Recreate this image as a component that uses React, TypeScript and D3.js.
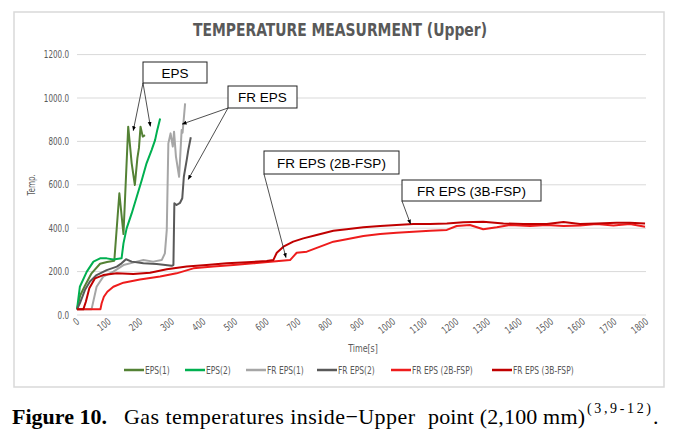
import React from "react";
import * as d3 from "d3";

const W = 683;
const H = 438;

const xTicks = d3.range(0, 1801, 100);
const yTicks = [0, 200, 400, 600, 800, 1000, 1200];

const seriesNames = ["EPS(1)", "EPS(2)", "FR EPS(1)", "FR EPS(2)", "FR EPS (2B-FSP)", "FR EPS (3B-FSP)"];
const seriesLegend = ["EPS(1)", "EPS(2)", "FR EPS(1)", "FR EPS(2)", "FR EPS (2B-FSP)", "FR EPS (3B-FSP)"];
const seriesColors = ["#548235", "#00b050", "#a6a6a6", "#595959", "#ee1c1c", "#c00000"];

const eps1: [number, number][] = [
  [0, 26], [10, 90], [25, 135], [46, 192], [73, 236], [95, 244], [118, 250],
  [134, 561], [147, 373], [162, 868], [173, 699], [183, 599], [191, 723],
  [196, 770], [201, 868], [208, 822], [215, 829],
];
const eps2: [number, number][] = [
  [0, 26], [9, 130], [31, 200], [52, 246], [73, 261], [94, 261], [115, 256],
  [141, 261], [147, 330], [157, 399], [173, 468], [189, 545], [205, 622],
  [220, 699], [236, 760], [247, 806], [254, 853], [263, 906],
];
const frEps1: [number, number][] = [
  [0, 26], [46, 26], [62, 130], [83, 177], [115, 200], [147, 230], [189, 246],
  [210, 253], [241, 246], [268, 253], [278, 284], [284, 392], [289, 791],
  [296, 837], [303, 776], [307, 845], [313, 730], [323, 637], [331, 852],
  [334, 840], [342, 975],
];
const frEps2: [number, number][] = [
  [0, 26], [9, 54], [25, 115], [41, 154], [62, 184], [94, 207], [126, 223],
  [141, 238], [155, 257], [173, 246], [210, 238], [252, 235], [300, 227],
  [305, 230], [308, 515], [315, 507], [326, 517], [333, 538], [338, 637],
  [347, 714], [352, 760], [360, 819],
];
const fr2b: [number, number][] = [
  [0, 26], [74, 26], [78, 54], [85, 84], [96, 107], [115, 130], [147, 149],
  [199, 164], [263, 177], [315, 192], [368, 215], [431, 223], [495, 230],
  [558, 238], [621, 246], [674, 253], [684, 269], [695, 287], [727, 292],
  [769, 315], [811, 338], [853, 349], [906, 364], [959, 373], [1011, 379],
  [1064, 384], [1117, 388], [1170, 392], [1201, 410], [1243, 415], [1285, 395],
  [1328, 404], [1370, 415], [1433, 410], [1486, 415], [1539, 410], [1591, 413],
  [1644, 419], [1697, 413], [1749, 419], [1797, 407],
];
const fr3b: [number, number][] = [
  [0, 26], [20, 26], [28, 61], [39, 123], [57, 169], [83, 184], [126, 192],
  [178, 189], [231, 195], [284, 211], [347, 223], [410, 230], [474, 238],
  [537, 243], [600, 249], [621, 253], [632, 287], [653, 315], [684, 338],
  [716, 353], [758, 369], [811, 388], [853, 395], [906, 404], [959, 410],
  [1011, 415], [1064, 419], [1117, 419], [1170, 422], [1222, 427], [1285, 430],
  [1349, 422], [1412, 419], [1486, 419], [1539, 429], [1591, 419], [1644, 422],
  [1707, 425], [1749, 425], [1797, 422],
];
const seriesData = [eps1, eps2, frEps1, frEps2, fr2b, fr3b];

const axisFont = "'Liberation Sans Narrow', 'DejaVu Sans Condensed', 'Roboto', sans-serif";
const boxFont = "'Liberation Sans', 'Open Sans', sans-serif";
const serif = "'Liberation Serif', 'DejaVu Serif', serif";
const SQ = 0.8; // horizontal squeeze for the condensed axis font

export default function App() {
  const x = d3.scaleLinear().domain([0, 1800]).range([77, 646]);
  const y = d3.scaleLinear().domain([0, 1200]).range([315, 54.6]);
  const line = d3
    .line<[number, number]>()
    .x((d) => x(d[0]))
    .y((d) => y(d[1]));

  const legendX = [124, 185, 246, 317, 391, 492];

  const boxes = [
    { label: "EPS", x0: 143, y0: 62, x1: 207, y1: 83 },
    { label: "FR EPS", x0: 228, y0: 86, x1: 297, y1: 108 },
    { label: "FR EPS (2B-FSP)", x0: 264, y0: 151, x1: 399, y1: 174 },
    { label: "FR EPS (3B-FSP)", x0: 402, y0: 180, x1: 541, y1: 201 },
  ];
  const arrows = [
    { fx: 143, fy: 83, t: 178, v: 850 },
    { fx: 143, fy: 83, t: 232, v: 870 },
    { fx: 228, fy: 108, t: 333, v: 880 },
    { fx: 228, fy: 108, t: 352, v: 625 },
    { fx: 264, fy: 174, t: 661, v: 265 },
    { fx: 402, fy: 201, t: 1055, v: 420 },
  ];

  return (
    <svg
      width={W}
      height={H}
      style={{ position: "absolute", left: 0, top: 0, display: "block", background: "#fff" }}
    >
      <defs>
        <marker id="arr" viewBox="0 0 10 10" refX="9" refY="5" markerWidth="6" markerHeight="6" orient="auto">
          <path d="M0,1 L10,5 L0,9 z" fill="#000" />
        </marker>
      </defs>
      <rect x={14} y={12} width={650} height={375} fill="#fff" stroke="#d9d9d9" strokeWidth={1.5} />
      <text
        x={340}
        y={36}
        textAnchor="middle"
        fontFamily={axisFont}
        fontSize={18}
        fontWeight="bold"
        fill="#595959"
        textLength={294}
        lengthAdjust="spacingAndGlyphs"
      >
        TEMPERATURE MEASURMENT (Upper)
      </text>

      {yTicks.map((t) => (
        <g key={"y" + t}>
          <line x1={x(0)} x2={x(1800)} y1={y(t)} y2={y(t)} stroke="#d9d9d9" strokeWidth={1} />
          <text
            transform={`translate(69,${y(t) + 3.5}) scale(${SQ},1)`}
            textAnchor="end"
            fontFamily={axisFont}
            fontSize={10}
            fill="#595959"
          >
            {t.toFixed(1)}
          </text>
        </g>
      ))}
      <text
        transform={`translate(35,${y(600)}) rotate(-90) scale(${SQ},1)`}
        textAnchor="middle"
        fontFamily={axisFont}
        fontSize={10}
        fill="#595959"
      >
        Temp.
      </text>

      {xTicks.map((t) => (
        <text
          key={"x" + t}
          transform={`translate(${x(t) + 3},${323}) rotate(-38) scale(${SQ},1)`}
          textAnchor="end"
          fontFamily={axisFont}
          fontSize={10}
          fill="#595959"
        >
          {t}
        </text>
      ))}
      <text
        transform={`translate(363,352) scale(${SQ},1)`}
        textAnchor="middle"
        fontFamily={axisFont}
        fontSize={11}
        fill="#595959"
      >
        Time[s]
      </text>

      {seriesData.map((d, i) => (
        <path
          key={seriesNames[i]}
          d={line(d) || ""}
          fill="none"
          stroke={seriesColors[i]}
          strokeWidth={2}
          strokeLinejoin="round"
        />
      ))}

      {boxes.map((b) => (
        <g key={b.label}>
          <rect x={b.x0} y={b.y0} width={b.x1 - b.x0} height={b.y1 - b.y0} fill="#fff" stroke="#222" strokeWidth={1} />
          <text
            x={(b.x0 + b.x1) / 2}
            y={(b.y0 + b.y1) / 2 + 5}
            textAnchor="middle"
            fontFamily={boxFont}
            fontSize={13.5}
            fill="#000"
          >
            {b.label}
          </text>
        </g>
      ))}
      {arrows.map((a, i) => (
        <line
          key={"a" + i}
          x1={a.fx}
          y1={a.fy}
          x2={x(a.t)}
          y2={y(a.v)}
          stroke="#222"
          strokeWidth={0.8}
          markerEnd="url(#arr)"
        />
      ))}

      {seriesLegend.map((n, i) => (
        <g key={"l" + n}>
          <line x1={legendX[i]} x2={legendX[i] + 20} y1={370} y2={370} stroke={seriesColors[i]} strokeWidth={2.5} />
          <text
            transform={`translate(${legendX[i] + 21},373.5) scale(0.8,1)`}
            fontFamily={axisFont}
            fontSize={10.5}
            fill="#595959"
          >
            {n}
          </text>
        </g>
      ))}

      <g fontFamily={serif} fontSize={22} fill="#000">
        <text x={12} y={424} fontWeight="bold" textLength={95} lengthAdjust="spacing">
          Figure 10.
        </text>
        <text x={124} y={424} textLength={291} lengthAdjust="spacing">
          Gas temperatures inside−Upper
        </text>
        <text x={428} y={424} textLength={157} lengthAdjust="spacing">
          point (2,100 mm)
        </text>
        <text x={587} y={413} fontSize={14} textLength={64} lengthAdjust="spacing">
          (3,9-12)
        </text>
        <text x={653} y={424}>
          .
        </text>
      </g>
    </svg>
  );
}
